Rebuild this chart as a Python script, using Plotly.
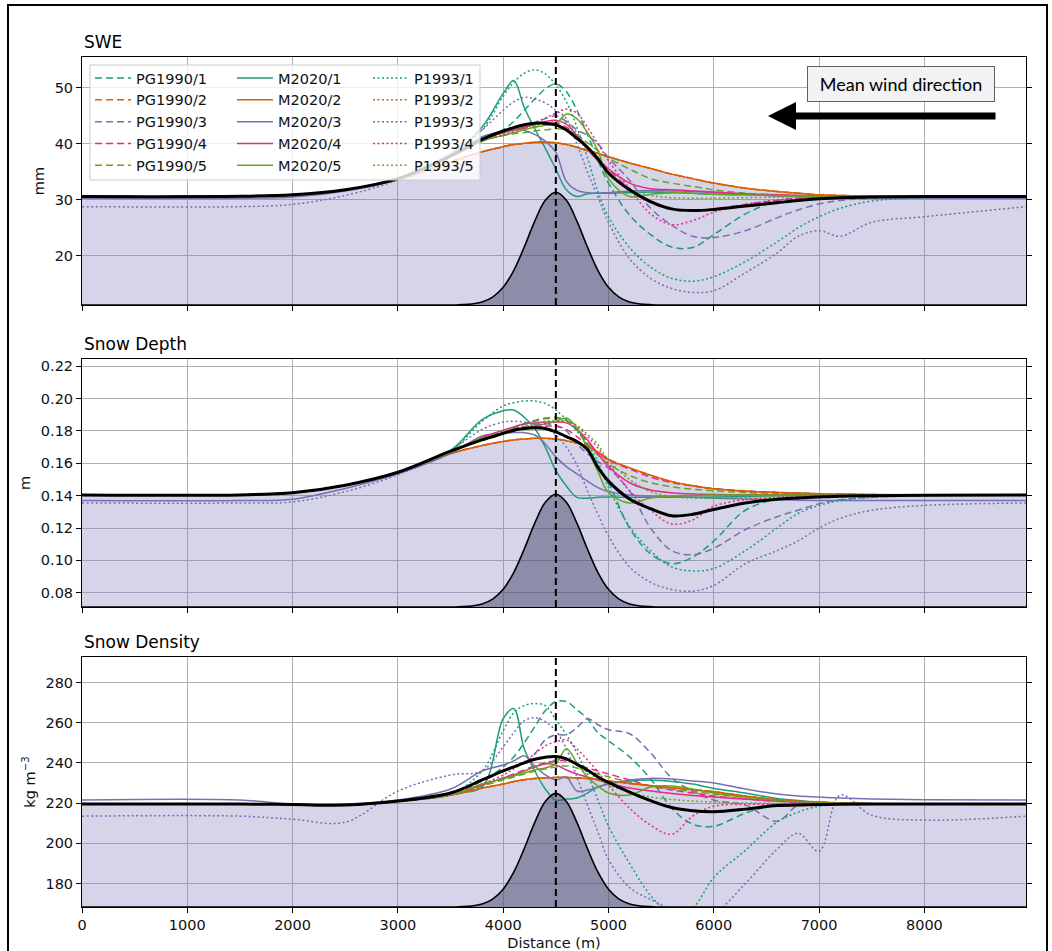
import plotly.graph_objects as go

# ---------------- data ----------------
distance_m = [0, 1500, 2000, 2500, 3000, 3500, 3800, 4000, 4100, 4200, 4300, 4400, 4500,
              4600, 4700, 4800, 4900, 5000, 5200, 5400, 5600, 5800, 6000, 6300, 6600,
              6800, 7000, 7200, 7500, 8000, 8970]

member_names = ["PG1990/1", "PG1990/2", "PG1990/3", "PG1990/4", "PG1990/5",
                "M2020/1", "M2020/2", "M2020/3", "M2020/4", "M2020/5",
                "P1993/1", "P1993/2", "P1993/3", "P1993/4", "P1993/5"]
panel_titles = ["SWE", "Snow Depth", "Snow Density"]
unit_labels = ["mm", "m", "kg m<sup>−3</sup>"]
distance_ticks = [0, 1000, 2000, 3000, 4000, 5000, 6000, 7000, 8000]
swe_ticks = [20, 30, 40, 50]
depth_ticks = [0.08, 0.10, 0.12, 0.14, 0.16, 0.18, 0.20, 0.22]
density_ticks = [180, 200, 220, 240, 260, 280]
ridge_crest_m = 4500

# SWE (mm)
swe_pg1 = [30.6, 30.65, 30.9, 31.8, 33.8, 37.8, 40.5, 42.5, 44.0, 46.0, 48.0, 49.8, 50.7, 49.3, 46.0, 41.7, 37.0, 33.0, 27.3, 23.8, 21.6, 21.5, 23.8, 27.5, 29.8, 30.3, 30.5, 30.6, 30.6, 30.6, 30.6]
swe_pg3 = [30.6, 30.65, 30.9, 31.8, 33.8, 37.8, 41.0, 42.0, 42.5, 43.0, 43.8, 44.5, 45.0, 44.0, 42.5, 41.5, 40.0, 37.5, 33.5, 28.5, 25.5, 23.5, 23.3, 24.5, 26.8, 28.2, 29.3, 29.9, 30.3, 30.5, 30.6]
swe_pg4 = [30.6, 30.65, 30.9, 31.8, 33.8, 37.8, 40.8, 42.0, 42.5, 42.8, 43.0, 43.5, 43.8, 43.0, 41.5, 39.5, 37.5, 35.5, 32.0, 29.5, 28.3, 28.0, 28.4, 29.2, 29.9, 30.2, 30.4, 30.5, 30.6, 30.6, 30.6]
swe_pg5 = [30.6, 30.65, 30.9, 31.8, 33.8, 37.8, 40.5, 41.5, 41.8, 42.0, 42.3, 42.5, 42.7, 42.5, 41.5, 40.2, 38.8, 37.5, 35.5, 33.8, 33.0, 32.4, 31.8, 31.2, 30.9, 30.8, 30.7, 30.6, 30.6, 30.6, 30.6]
swe_m1 = [30.6, 30.65, 30.9, 31.8, 33.8, 38.0, 43.0, 49.0, 51.3, 46.5, 42.7, 39.2, 35.5, 31.8, 30.6, 31.1, 31.2, 31.2, 31.3, 31.4, 31.3, 31.2, 31.0, 30.9, 30.8, 30.7, 30.7, 30.6, 30.6, 30.6, 30.6]
swe_m2 = [30.6, 30.65, 30.9, 31.8, 33.6, 36.8, 38.6, 39.5, 39.9, 40.1, 40.3, 40.3, 40.2, 39.9, 39.4, 38.8, 38.3, 37.7, 36.6, 35.6, 34.6, 33.8, 33.0, 32.1, 31.5, 31.2, 30.9, 30.8, 30.7, 30.6, 30.6]
swe_m3 = [30.3, 30.3, 30.5, 31.6, 33.7, 37.8, 41.3, 42.3, 42.6, 42.4, 41.7, 40.5, 38.5, 33.3, 31.7, 31.3, 31.2, 31.3, 31.6, 31.7, 31.6, 31.5, 31.3, 31.0, 30.7, 30.6, 30.5, 30.4, 30.4, 30.3, 30.3]
swe_m4 = [30.6, 30.65, 30.9, 31.8, 33.8, 37.8, 40.8, 42.0, 42.5, 43.0, 43.5, 44.0, 44.2, 43.5, 41.5, 39.0, 37.0, 35.5, 33.0, 32.0, 31.8, 31.6, 31.4, 31.1, 30.9, 30.8, 30.7, 30.7, 30.6, 30.6, 30.6]
swe_m5 = [30.6, 30.65, 30.9, 31.8, 33.8, 37.8, 40.5, 41.5, 42.0, 42.5, 43.0, 43.3, 43.6, 45.3, 44.5, 42.0, 38.8, 33.8, 30.6, 31.0, 31.3, 31.2, 31.0, 30.9, 30.8, 30.7, 30.7, 30.6, 30.6, 30.6, 30.6]
swe_p1 = [30.6, 30.65, 30.9, 31.8, 33.8, 38.3, 42.5, 48.5, 51.0, 52.6, 53.2, 52.5, 50.5, 47.5, 43.0, 37.5, 31.5, 27.0, 21.5, 18.0, 16.0, 15.5, 16.3, 19.0, 22.5, 25.0, 27.0, 28.5, 29.8, 30.4, 30.6]
swe_p3 = [28.8, 28.8, 29.2, 30.8, 33.6, 38.3, 42.5, 46.0, 47.5, 48.3, 48.0, 47.3, 46.0, 44.5, 40.0, 35.0, 30.5, 26.0, 19.5, 16.0, 14.2, 13.5, 13.8, 17.0, 20.5, 23.5, 24.5, 23.5, 26.0, 27.0, 28.8]
swe_p4 = [30.6, 30.65, 30.9, 31.8, 33.8, 37.8, 40.8, 41.5, 42.2, 43.0, 43.8, 44.6, 45.5, 46.2, 45.5, 43.0, 40.0, 37.0, 32.0, 27.5, 25.6, 26.3, 27.8, 29.2, 30.0, 30.3, 30.5, 30.6, 30.6, 30.6, 30.6]
swe_p5 = [30.6, 30.65, 30.9, 31.8, 33.8, 37.8, 40.6, 41.7, 42.3, 42.8, 43.3, 43.7, 44.0, 43.8, 42.0, 39.5, 37.0, 35.0, 32.0, 30.8, 30.4, 30.3, 30.3, 30.4, 30.5, 30.6, 30.6, 30.6, 30.6, 30.6, 30.6]
swe_pg2 = swe_m2
swe_p2 = swe_m2
swe_mean = [30.6, 30.65, 30.9, 31.8, 33.8, 37.8, 40.8, 42.3, 42.9, 43.4, 43.7, 43.7, 43.4, 42.5, 41.0, 39.4, 37.3, 34.8, 31.8, 29.7, 28.4, 28.1, 28.3, 28.9, 29.5, 29.9, 30.2, 30.4, 30.5, 30.6, 30.6]

# Snow depth (m)
dep_pg1 = [0.1405, 0.1405, 0.1418, 0.1465, 0.1545, 0.1668, 0.1755, 0.1795, 0.1820, 0.1845, 0.1865, 0.1880, 0.1885, 0.1865, 0.1805, 0.1710, 0.1580, 0.1480, 0.1200, 0.1040, 0.0980, 0.1020, 0.1120, 0.1310, 0.1380, 0.1393, 0.1398, 0.1401, 0.1403, 0.1405, 0.1405]
dep_pg3 = [0.1405, 0.1405, 0.1418, 0.1465, 0.1545, 0.1668, 0.1760, 0.1790, 0.1810, 0.1825, 0.1840, 0.1845, 0.1835, 0.1800, 0.1720, 0.1660, 0.1610, 0.1570, 0.1430, 0.1200, 0.1060, 0.1035, 0.1075, 0.1190, 0.1270, 0.1310, 0.1350, 0.1375, 0.1390, 0.1400, 0.1405]
dep_pg4 = [0.1405, 0.1405, 0.1418, 0.1465, 0.1545, 0.1668, 0.1755, 0.1790, 0.1805, 0.1820, 0.1825, 0.1830, 0.1830, 0.1810, 0.1765, 0.1715, 0.1665, 0.1620, 0.1565, 0.1515, 0.1480, 0.1460, 0.1443, 0.1430, 0.1420, 0.1415, 0.1410, 0.1408, 0.1406, 0.1405, 0.1405]
dep_pg5 = [0.1405, 0.1405, 0.1418, 0.1465, 0.1545, 0.1668, 0.1760, 0.1800, 0.1820, 0.1840, 0.1860, 0.1875, 0.1880, 0.1865, 0.1810, 0.1735, 0.1650, 0.1595, 0.1525, 0.1480, 0.1455, 0.1440, 0.1430, 0.1420, 0.1413, 0.1410, 0.1408, 0.1406, 0.1405, 0.1405, 0.1405]
dep_m1 = [0.1405, 0.1405, 0.1418, 0.1465, 0.1545, 0.1680, 0.1870, 0.1925, 0.1930, 0.1885, 0.1815, 0.1700, 0.1555, 0.1460, 0.1390, 0.1385, 0.1390, 0.1392, 0.1390, 0.1390, 0.1390, 0.1390, 0.1392, 0.1395, 0.1400, 0.1402, 0.1403, 0.1404, 0.1405, 0.1405, 0.1405]
dep_m2 = [0.1405, 0.1405, 0.1418, 0.1465, 0.1545, 0.1660, 0.1710, 0.1735, 0.1745, 0.1750, 0.1755, 0.1755, 0.1750, 0.1740, 0.1725, 0.1705, 0.1670, 0.1625, 0.1572, 0.1527, 0.1487, 0.1462, 0.1443, 0.1428, 0.1420, 0.1416, 0.1412, 0.1410, 0.1407, 0.1406, 0.1405]
dep_m3 = [0.1370, 0.1370, 0.1378, 0.1445, 0.1535, 0.1660, 0.1770, 0.1785, 0.1790, 0.1790, 0.1775, 0.1720, 0.1640, 0.1580, 0.1535, 0.1490, 0.1450, 0.1425, 0.1405, 0.1398, 0.1395, 0.1390, 0.1385, 0.1380, 0.1375, 0.1372, 0.1370, 0.1370, 0.1370, 0.1370, 0.1370]
dep_m4 = [0.1405, 0.1405, 0.1418, 0.1465, 0.1545, 0.1670, 0.1760, 0.1805, 0.1825, 0.1845, 0.1850, 0.1855, 0.1855, 0.1850, 0.1810, 0.1745, 0.1660, 0.1580, 0.1480, 0.1435, 0.1418, 0.1410, 0.1408, 0.1406, 0.1405, 0.1405, 0.1405, 0.1405, 0.1405, 0.1405, 0.1405]
dep_m5 = [0.1405, 0.1405, 0.1418, 0.1465, 0.1545, 0.1668, 0.1755, 0.1785, 0.1800, 0.1815, 0.1830, 0.1845, 0.1860, 0.1880, 0.1820, 0.1690, 0.1550, 0.1420, 0.1355, 0.1385, 0.1398, 0.1402, 0.1404, 0.1405, 0.1405, 0.1405, 0.1405, 0.1405, 0.1405, 0.1405, 0.1405]
dep_p1 = [0.1405, 0.1405, 0.1418, 0.1465, 0.1545, 0.1675, 0.1860, 0.1955, 0.1975, 0.1985, 0.1985, 0.1970, 0.1930, 0.1870, 0.1800, 0.1720, 0.1610, 0.1450, 0.1210, 0.1060, 0.0960, 0.0935, 0.0950, 0.1060, 0.1200, 0.1290, 0.1340, 0.1370, 0.1390, 0.1400, 0.1405]
dep_p3 = [0.1355, 0.1355, 0.1362, 0.1425, 0.1530, 0.1680, 0.1810, 0.1855, 0.1860, 0.1855, 0.1845, 0.1815, 0.1775, 0.1700, 0.1590, 0.1430, 0.1285, 0.1150, 0.0960, 0.0865, 0.0820, 0.0810, 0.0845, 0.0980, 0.1060, 0.1120, 0.1200, 0.1260, 0.1310, 0.1340, 0.1355]
dep_p4 = [0.1405, 0.1405, 0.1418, 0.1465, 0.1545, 0.1668, 0.1755, 0.1785, 0.1800, 0.1815, 0.1830, 0.1845, 0.1855, 0.1860, 0.1830, 0.1765, 0.1695, 0.1600, 0.1430, 0.1310, 0.1225, 0.1250, 0.1335, 0.1375, 0.1390, 0.1398, 0.1402, 0.1404, 0.1405, 0.1405, 0.1405]
dep_p5 = [0.1405, 0.1405, 0.1418, 0.1465, 0.1545, 0.1668, 0.1760, 0.1795, 0.1815, 0.1830, 0.1845, 0.1860, 0.1865, 0.1860, 0.1835, 0.1780, 0.1715, 0.1620, 0.1500, 0.1425, 0.1395, 0.1385, 0.1385, 0.1390, 0.1398, 0.1401, 0.1403, 0.1404, 0.1405, 0.1405, 0.1405]
dep_pg2 = dep_m2
dep_p2 = dep_m2
dep_mean = [0.1405, 0.1405, 0.1418, 0.1465, 0.1545, 0.1675, 0.1745, 0.1785, 0.1805, 0.1815, 0.1820, 0.1815, 0.1795, 0.1765, 0.1735, 0.1685, 0.1575, 0.1490, 0.1380, 0.1320, 0.1276, 0.1285, 0.1315, 0.1355, 0.1378, 0.1386, 0.1392, 0.1397, 0.1400, 0.1403, 0.1405]

# Snow density (kg m-3)
den_pg1 = [219.5, 219.5, 219.3, 219.0, 221.0, 224.5, 231.0, 238.0, 243.0, 250.0, 258.0, 266.0, 270.5, 270.5, 266.5, 262.0, 255.0, 251.0, 243.0, 232.0, 217.5, 209.5, 208.5, 215.0, 219.5, 220.0, 220.0, 219.8, 219.7, 219.5, 219.5]
den_pg3 = [219.5, 219.5, 219.3, 219.0, 221.0, 224.5, 231.0, 236.0, 238.5, 240.0, 244.5, 251.5, 254.0, 254.0, 257.5, 262.0, 259.0, 256.5, 254.5, 245.0, 232.5, 226.0, 221.5, 219.0, 211.0, 219.0, 220.5, 220.0, 219.8, 219.5, 219.5]
den_pg4 = [219.5, 219.5, 219.3, 219.0, 221.0, 224.0, 229.0, 232.5, 234.5, 236.5, 238.5, 240.0, 241.0, 241.0, 239.5, 237.5, 236.0, 234.5, 231.5, 228.5, 226.5, 225.0, 223.5, 222.0, 221.0, 220.6, 220.2, 219.9, 219.7, 219.5, 219.5]
den_pg5 = [219.5, 219.5, 219.3, 219.0, 221.0, 224.0, 228.5, 231.5, 233.0, 234.5, 236.0, 237.0, 238.0, 238.5, 237.5, 236.0, 234.5, 233.0, 230.5, 228.5, 227.0, 225.8, 224.5, 222.8, 221.3, 220.7, 220.2, 219.9, 219.7, 219.5, 219.5]
den_m1 = [219.5, 219.5, 219.3, 219.0, 221.0, 225.0, 228.0, 262.0, 267.0, 247.0, 236.0, 227.0, 221.5, 222.0, 222.5, 225.0, 228.0, 229.5, 231.0, 231.5, 230.8, 229.5, 227.3, 225.0, 222.3, 221.3, 220.5, 220.0, 219.7, 219.5, 219.5]
den_m2 = [219.5, 219.5, 219.3, 219.0, 220.8, 224.0, 227.5, 229.5, 230.7, 231.6, 232.2, 232.6, 232.8, 232.8, 232.6, 232.2, 231.6, 231.0, 229.8, 228.7, 227.6, 226.7, 225.7, 223.5, 221.7, 220.9, 220.3, 219.9, 219.7, 219.5, 219.5]
den_m3 = [221.5, 221.5, 219.5, 219.5, 221.5, 227.0, 236.0, 239.0, 241.0, 243.5, 238.5, 234.0, 231.5, 233.0, 226.0, 226.5, 228.0, 229.5, 231.5, 232.3, 232.0, 231.0, 230.0, 227.0, 224.5, 223.5, 223.0, 222.5, 222.0, 221.7, 221.5]
den_m4 = [219.5, 219.5, 219.3, 219.0, 221.0, 224.0, 229.0, 232.5, 234.0, 236.0, 238.0, 239.5, 239.0, 236.5, 234.5, 233.0, 231.5, 230.0, 227.5, 226.0, 224.8, 223.8, 223.0, 222.0, 221.0, 220.6, 220.2, 219.9, 219.7, 219.5, 219.5]
den_m5 = [219.5, 219.5, 219.3, 219.0, 221.0, 224.0, 229.5, 232.0, 233.5, 235.0, 236.5, 237.5, 239.5, 247.0, 240.0, 233.0, 228.5, 225.0, 224.0, 228.0, 228.5, 227.0, 225.0, 223.0, 221.5, 220.8, 220.3, 220.0, 219.7, 219.5, 219.5]
den_p1 = [219.5, 219.5, 219.3, 219.0, 221.0, 224.5, 236.0, 256.0, 265.0, 268.5, 269.5, 268.5, 261.5, 254.0, 245.0, 234.5, 221.5, 208.5, 190.0, 174.0, 165.0, 168.0, 183.0, 196.5, 210.5, 215.5, 218.5, 219.3, 219.5, 219.5, 219.5]
den_p3 = [213.5, 213.5, 212.0, 210.5, 226.0, 234.0, 236.0, 248.0, 255.0, 261.0, 262.5, 260.5, 256.0, 247.0, 233.0, 219.0, 205.5, 192.0, 178.0, 172.0, 167.0, 163.0, 165.0, 180.0, 197.0, 205.0, 196.0, 224.0, 214.0, 211.5, 213.5]
den_p4 = [219.5, 219.5, 219.3, 219.0, 221.0, 224.0, 229.5, 234.0, 237.0, 240.5, 244.5, 248.5, 250.5, 251.5, 247.0, 241.5, 235.5, 229.0, 217.5, 209.0, 204.5, 213.5, 218.5, 219.3, 219.5, 219.5, 219.5, 219.5, 219.5, 219.5, 219.5]
den_p5 = [219.5, 219.5, 219.3, 219.0, 221.0, 224.0, 229.0, 232.0, 234.0, 236.0, 238.0, 240.0, 241.5, 242.0, 239.0, 235.5, 232.0, 229.0, 225.5, 223.0, 221.8, 221.0, 220.5, 220.0, 219.8, 219.6, 219.5, 219.5, 219.5, 219.5, 219.5]
den_pg2 = den_m2
den_p2 = den_m2
den_mean = [219.5, 219.5, 219.3, 219.0, 221.0, 225.0, 231.5, 236.0, 238.0, 240.0, 241.8, 242.8, 243.2, 242.0, 239.3, 236.5, 233.0, 230.3, 225.5, 221.2, 217.8, 216.2, 215.7, 217.0, 218.8, 219.0, 219.3, 219.4, 219.5, 219.5, 219.5]

# Topography of the ridge (relative elevation, 1 = crest)
hill_x = [0, 3500, 3600, 3700, 3800, 3900, 4000, 4100, 4200, 4300, 4400, 4500, 4600, 4700,
          4800, 4900, 5000, 5100, 5200, 5300, 5400, 5500, 8970]
hill_h = [0, 0.0, 0.003, 0.009, 0.027, 0.07, 0.157, 0.306, 0.514, 0.744, 0.929, 1.0, 0.929,
          0.744, 0.514, 0.306, 0.157, 0.07, 0.027, 0.009, 0.003, 0.0, 0]

# ---------------- styling ----------------
palette = ["#1b9e77", "#d95f02", "#7570b3", "#e7298a", "#66a61e"]
family_dash = ["7px,4px", "solid", "2px,2.5px"]
FONT = "DejaVu Sans"
W, H = 1052, 951
ML, MR, MT, MB = 82, 26, 57, 44
PW, PH = W - ML - MR, H - MT - MB

def py(px):  # pixel row -> paper y
    return (H - MB - px) / PH

def pxx(px):  # pixel column -> paper x
    return (px - ML) / PW

panels = [
    dict(series=[swe_pg1, swe_pg2, swe_pg3, swe_pg4, swe_pg5, swe_m1, swe_m2, swe_m3, swe_m4, swe_m5,
                 swe_p1, swe_p2, swe_p3, swe_p4, swe_p5], mean=swe_mean, base=swe_m2,
         xa="x", ya="y", ha="y4", top=57, bottom=305, rng=[11.25, 55.5], ticks=swe_ticks, fmt=""),
    dict(series=[dep_pg1, dep_pg2, dep_pg3, dep_pg4, dep_pg5, dep_m1, dep_m2, dep_m3, dep_m4, dep_m5,
                 dep_p1, dep_p2, dep_p3, dep_p4, dep_p5], mean=dep_mean, base=dep_m2,
         xa="x2", ya="y2", ha="y5", top=359, bottom=607, rng=[0.0712, 0.2245], ticks=depth_ticks, fmt=".2f"),
    dict(series=[den_pg1, den_pg2, den_pg3, den_pg4, den_pg5, den_m1, den_m2, den_m3, den_m4, den_m5,
                 den_p1, den_p2, den_p3, den_p4, den_p5], mean=den_mean, base=den_m2,
         xa="x3", ya="y3", ha="y6", top=657, bottom=907, rng=[168.3, 292.7], ticks=density_ticks, fmt=""),
]
legend_ids = ["legend", "legend2", "legend3"]

fig = go.Figure()
for p_i, pn in enumerate(panels):
    fig.add_trace(go.Scatter(x=distance_m, y=pn["base"], mode="lines",
                             line=dict(width=0, shape="spline"), fill="tozeroy",
                             fillcolor="rgba(117,112,179,0.30)", xaxis=pn["xa"], yaxis=pn["ya"],
                             showlegend=False, hoverinfo="skip"))
    for k, yv in enumerate(pn["series"]):
        fam, m = divmod(k, 5)
        fig.add_trace(go.Scatter(x=distance_m, y=yv, mode="lines", name=member_names[k],
                                 line=dict(color=palette[m], width=1.5, dash=family_dash[fam],
                                           shape="spline"),
                                 xaxis=pn["xa"], yaxis=pn["ya"], legend=legend_ids[fam],
                                 showlegend=(p_i == 0)))
    fig.add_trace(go.Scatter(x=distance_m, y=pn["mean"], mode="lines", name="mean",
                             line=dict(color="black", width=3, shape="spline"),
                             xaxis=pn["xa"], yaxis=pn["ya"], showlegend=False))
    fig.add_trace(go.Scatter(x=hill_x, y=hill_h, mode="lines", line=dict(color="black", width=1.6,
                             shape="spline"), fill="tozeroy", fillcolor="rgba(70,70,108,0.5)",
                             xaxis=pn["xa"], yaxis=pn["ha"], showlegend=False, hoverinfo="skip"))

axis_common = dict(showline=True, linecolor="black", linewidth=1, ticks="outside", ticklen=5,
                   tickcolor="black", showgrid=True, gridcolor="#b0b0b0", gridwidth=0.8,
                   zeroline=False, automargin=False,
                   tickfont=dict(family=FONT, size=14.5, color="#111"))
layout = dict(width=W, height=H, margin=dict(l=ML, r=MR, t=MT, b=MB),
              plot_bgcolor="white", paper_bgcolor="white",
              font=dict(family=FONT, size=14.5, color="#111"), showlegend=True)
ann = []
shapes = []
for p_i, pn in enumerate(panels):
    s = "" if p_i == 0 else str(p_i + 1)
    dom = [py(pn["bottom"]), py(pn["top"])]
    layout["xaxis" + s] = dict(axis_common, domain=[0, 1], anchor="y" + s, range=[0, 8965],
                               tickvals=distance_ticks, mirror=True,
                               showticklabels=(p_i == 2),
                               **({} if p_i == 0 else {"matches": "x"}))
    layout["yaxis" + s] = dict(axis_common, domain=dom, anchor="x" + s, range=pn["rng"],
                               tickvals=pn["ticks"], tickformat=pn["fmt"], mirror="ticks",
                               title=dict(text=unit_labels[p_i], standoff=6,
                                          font=dict(family=FONT, size=14.5)))
    layout["yaxis" + str(p_i + 4)] = dict(overlaying="y" + s, anchor="x" + s, range=[0, 2.2],
                                          visible=False, fixedrange=True)
    ann.append(dict(text=panel_titles[p_i], xref="paper", yref="paper", x=0, y=dom[1],
                    xanchor="left", yanchor="bottom", yshift=3, showarrow=False,
                    font=dict(family=FONT, size=17, color="black")))
    shapes.append(dict(type="line", xref="x" + s, yref="y" + s + " domain", x0=ridge_crest_m,
                       x1=ridge_crest_m, y0=0, y1=1, layer="above",
                       line=dict(color="black", width=2, dash="7px,4px")))
layout["xaxis3"]["title"] = dict(text="Distance (m)", standoff=6, font=dict(family=FONT, size=14.5))

# legend background box (one frame around three legend columns)
shapes.append(dict(type="rect", xref="paper", yref="paper", x0=pxx(90), x1=pxx(480),
                   y0=py(180), y1=py(65), layer="above", fillcolor="rgba(255,255,255,0.8)",
                   line=dict(color="#cccccc", width=1)))
# outer frame of the figure
shapes.append(dict(type="path", xref="paper", yref="paper",
                   path=f"M {pxx(8)},{py(960)} L {pxx(8)},{py(5)} L {pxx(1047)},{py(5)} L {pxx(1047)},{py(960)}",
                   line=dict(color="black", width=2), layer="above"))

for i, lid in enumerate(legend_ids):
    layout[lid] = dict(x=pxx([90, 232, 368][i]), y=py(62), xanchor="left", yanchor="top",
                       orientation="v", bgcolor="rgba(0,0,0,0)", borderwidth=0,
                       font=dict(family=FONT, size=14.5, color="#111"), itemwidth=36)

# wind direction box and arrow
ann.append(dict(text="Mean wind direction", xref="paper", yref="paper", x=pxx(901), y=py(84),
                xanchor="center", yanchor="middle", showarrow=False, width=184, height=32,
                bgcolor="#f2f2f2", bordercolor="#606060", borderwidth=1,
                font=dict(family="Lato", size=18, color="black")))
ann.append(dict(text="", xref="paper", yref="paper", x=pxx(768), y=py(116), ax=229, ay=0,
                showarrow=True, arrowhead=2, arrowsize=0.8, arrowwidth=7, arrowcolor="black"))

layout["annotations"] = ann
layout["shapes"] = shapes
fig.update_layout(**layout)
fig.write_html("out.html")
